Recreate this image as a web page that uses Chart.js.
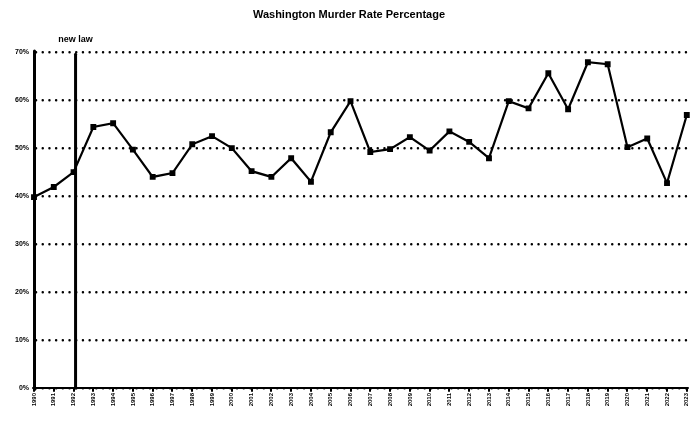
<!DOCTYPE html>
<html>
<head>
<meta charset="utf-8">
<script src="https://cdn.jsdelivr.net/npm/chart.js@4.4.0/dist/chart.umd.min.js"></script>
<style>
  html, body { margin: 0; padding: 0; background: #fff; }
  #wrap { width: 693px; height: 421px; }
</style>
</head>
<body>
<div id="wrap"><canvas id="rateChart"></canvas></div>
<script>
        // Data
        const years = ['1990', '1991', '1992', '1993', '1994', '1995', '1996', '1997', '1998', '1999',
            '2000', '2001', '2002', '2003', '2004', '2005', '2006', '2007', '2008', '2009',
            '2010', '2011', '2012', '2013', '2014', '2015', '2016', '2017', '2018', '2019',
            '2020', '2021', '2022', '2023'];
        const rates = [39.8, 41.9, 45.0, 54.4, 55.2, 49.7, 44.0, 44.8, 50.8, 52.5,
            50.0, 45.2, 44.0, 47.9, 43.0, 53.3, 59.8, 49.2, 49.8, 52.3,
            49.5, 53.5, 51.3, 47.9, 59.8, 58.3, 65.6, 58.1, 67.9, 67.5,
            50.2, 52.0, 42.7, 56.9];
        const yTicks = [0, 10, 20, 30, 40, 50, 60, 70];
        const yTickLabels = ['0%', '10%', '20%', '30%', '40%', '50%', '60%', '70%'];
        const eventIndex = 2;
        const eventLabel = 'new law';

        // Vertical marker line + its label
        const eventLine = {
            id: 'eventLine',
            afterDatasetsDraw(chart) {
                const { ctx, chartArea, scales } = chart;
                const x = scales.x.getPixelForValue(eventIndex) + 2;
                ctx.save();
                ctx.strokeStyle = '#000';
                ctx.lineWidth = 3;
                ctx.beginPath();
                ctx.moveTo(x, chartArea.top + 2);
                ctx.lineTo(x, chartArea.bottom);
                ctx.stroke();
                ctx.fillStyle = '#000';
                ctx.font = 'bold 9px "Liberation Sans", Arial, sans-serif';
                ctx.textAlign = 'center';
                ctx.textBaseline = 'middle';
                ctx.fillText(eventLabel, x, chartArea.top - 13);
                ctx.restore();
            }
        };

        const ctx = document.getElementById('rateChart').getContext('2d');
        new Chart(ctx, {
            type: 'line',
            data: {
                labels: years,
                datasets: [{
                    data: rates,
                    borderColor: '#000',
                    backgroundColor: '#000',
                    borderWidth: 2.2,
                    pointStyle: 'rect',
                    pointRadius: 2.6,
                    tension: 0,
                    clip: false
                }]
            },
            options: {
                responsive: true,
                maintainAspectRatio: false,
                animation: false,
                layout: { padding: { left: 0, right: -5, top: 0, bottom: 0 } },
                plugins: {
                    legend: { display: false },
                    tooltip: { enabled: false },
                    title: {
                        display: true,
                        text: 'Washington Murder Rate Percentage',
                        color: '#000',
                        font: { family: '"Liberation Sans", Arial, sans-serif', size: 11, weight: 'bold' },
                        padding: { top: 8, bottom: 31 }
                    }
                },
                scales: {
                    x: {
                        offset: false,
                        border: { display: true, color: '#000', width: 2 },
                        grid: { display: true, drawOnChartArea: false, color: '#000', tickLength: 3, lineWidth: 2 },
                        ticks: {
                            color: '#000',
                            autoSkip: false,
                            minRotation: 90,
                            maxRotation: 90,
                            padding: 2,
                            font: { family: '"Liberation Sans", Arial, sans-serif', size: 6, weight: 'bold' }
                        },
                        afterFit(scale) {
                            scale.height = 33;
                            scale.paddingRight = 0;
                            scale.paddingLeft = 0;
                        }
                    },
                    y: {
                        min: 0,
                        max: 70,
                        border: { display: true, color: '#000', width: 3, dash: [0.1, 6.6] },
                        grid: {
                            color: '#000',
                            lineWidth: 2.4,
                            drawTicks: false
                        },
                        afterBuildTicks(scale) {
                            scale.ticks = yTicks.map(v => ({ value: v }));
                        },
                        ticks: {
                            color: '#000',
                            padding: 5,
                            font: { family: '"Liberation Sans", Arial, sans-serif', size: 7, weight: 'bold' },
                            callback: (v) => yTickLabels[yTicks.indexOf(v)]
                        },
                        afterFit(scale) { scale.width = 34; }
                    }
                }
            },
            plugins: [eventLine, {
                id: 'roundDots',
                beforeDraw(chart) { chart.ctx.lineCap = 'round'; }
            }]
        });
</script>
</body>
</html>
